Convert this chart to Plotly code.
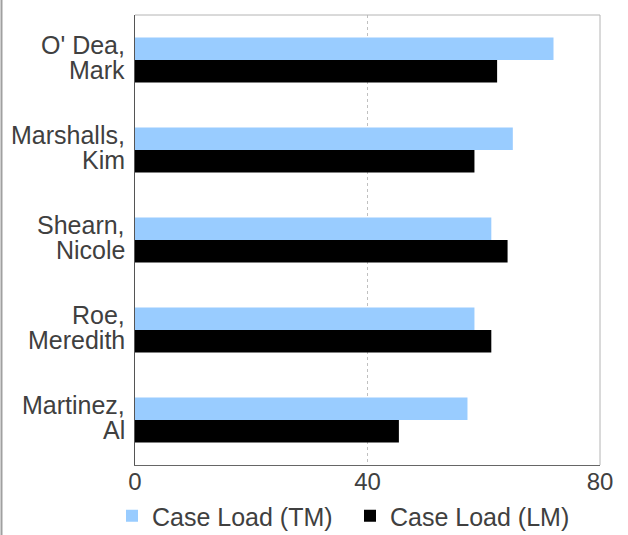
import plotly.graph_objects as go

categories = ["O' Dea,<br>Mark", "Marshalls,<br>Kim", "Shearn,<br>Nicole", "Roe,<br>Meredith", "Martinez,<br>Al"]
tm_values = [72, 65, 61.3, 58.4, 57.2]
lm_values = [62.3, 58.4, 64.1, 61.3, 45.4]
x_ticks = [0, 40, 80]

TXT = "#404040"
fig = go.Figure()
fig.add_trace(go.Bar(y=categories, x=tm_values, orientation="h", name="Case Load (TM)",
                     marker=dict(color="#99ccff", line=dict(width=0)), legend="legend"))
fig.add_trace(go.Bar(y=categories, x=lm_values, orientation="h", name="Case Load (LM)",
                     marker=dict(color="#000000", line=dict(width=0)), legend="legend2"))

# category labels: two lines each, tighter line spacing than tick labels allow
annotations = []
for cat in categories:
    lines = cat.split("<br>")
    shifts = [15, -10]
    for line, sh in zip(lines, shifts):
        annotations.append(dict(xref="paper", yref="y", x=0, y=cat, text=line,
                                xanchor="right", yanchor="middle", xshift=-8, yshift=sh,
                                showarrow=False, font=dict(size=25, color=TXT)))

legend_common = dict(orientation="h", xanchor="left", yref="container",
                     y=1 - 493 / 535, yanchor="top",
                     font=dict(size=25, color=TXT), bgcolor="rgba(0,0,0,0)")

fig.update_layout(
    width=628, height=535,
    margin=dict(l=135, r=28, t=15, b=70, autoexpand=False),
    paper_bgcolor="white", plot_bgcolor="white",
    font=dict(family="Liberation Sans, Arial, sans-serif", size=24, color=TXT),
    barmode="group", bargap=0.5, bargroupgap=0,
    showlegend=True,
    legend=dict(x=(112 - 135) / 465, **legend_common),
    legend2=dict(x=(350 - 135) / 465, **legend_common),
    xaxis=dict(range=[0, 80], tickvals=x_ticks, showgrid=True, gridcolor="#c0c0c0",
               griddash="dot", gridwidth=1, zeroline=False, showline=True,
               linecolor="#666666", linewidth=1, ticks="", tickfont=dict(size=24),
               ticklabelstandoff=-5, automargin=False),
    yaxis=dict(autorange="reversed", showgrid=False, zeroline=False, showline=True,
               linecolor="#555555", linewidth=1, ticks="", showticklabels=False,
               automargin=False),
    annotations=annotations,
    shapes=[
        dict(type="line", xref="paper", yref="paper", x0=0, x1=1, y0=1, y1=1,
             line=dict(color="#b4b4b4", width=1)),
        dict(type="line", xref="paper", yref="paper", x0=1, x1=1, y0=0, y1=1,
             line=dict(color="#b4b4b4", width=1)),
        dict(type="line", xref="paper", yref="paper", x0=(1.5 - 135) / 465, x1=(1.5 - 135) / 465,
             y0=-0.2, y1=1.1, line=dict(color="#a0a0a0", width=2)),
    ],
)

fig.write_html("out.html")
